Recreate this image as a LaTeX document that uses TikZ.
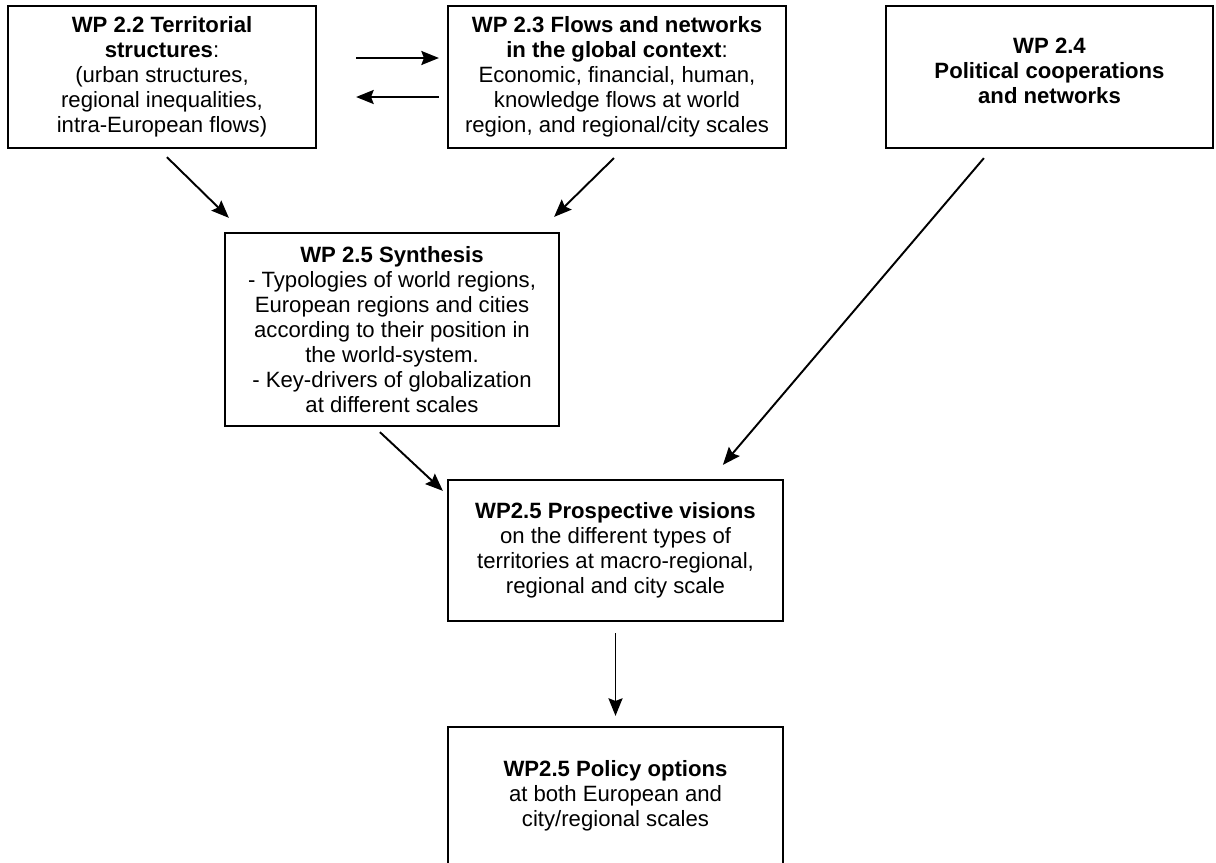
\documentclass[tikz,border=0pt]{standalone}
\usepackage{fontspec}
\setmainfont{Liberation Sans}
\usetikzlibrary{arrows.meta}

\begin{document}
\begin{tikzpicture}[x=0.02cm,y=-0.02cm,
    wpbox/.style={draw,line width=1.3pt,align=center,inner sep=0pt,
      font=\fontsize{12.6}{14.2}\selectfont},
    flow/.style={line width=1.1pt,-{Stealth[length=10pt,width=8pt,inset=1.5pt]}}]
    \useasboundingbox (0,0) rectangle (1216,862);
    % top row of work packages
    \node[wpbox,minimum width=6.16cm,minimum height=2.84cm] (b22) at (162,77)
      {\textbf{WP 2.2 Territorial}\\\textbf{structures}:\\(urban structures,\\regional inequalities,\\intra-European flows)};
    \node[wpbox,minimum width=6.76cm,minimum height=2.84cm] (b23) at (617,77)
      {\textbf{WP 2.3 Flows and networks}\\\textbf{in the global context}:\\Economic, financial, human,\\knowledge flows at world\\region, and regional/city scales};
    \node[wpbox,minimum width=6.54cm,minimum height=2.84cm] (b24) at (1049.5,77)
      {\textbf{WP 2.4}\\\textbf{Political cooperations}\\\textbf{and networks}\\[-7.4pt]\mbox{}};
    % synthesis
    \node[wpbox,minimum width=6.68cm,minimum height=3.86cm] (syn) at (392,329.5)
      {\textbf{WP 2.5 Synthesis}\\- Typologies of world regions,\\European regions and cities\\according to their position in\\the world-system.\\- Key-drivers of globalization\\at different scales};
    % visions and policy
    \node[wpbox,minimum width=6.70cm,minimum height=2.82cm] (pro) at (615.5,550.5)
      {\textbf{WP2.5 Prospective visions}\\on the different types of\\territories at macro-regional,\\regional and city scale};
    \node[wpbox,minimum width=6.70cm,minimum height=2.76cm] (pol) at (615.5,796)
      {\textbf{WP2.5 Policy options}\\at both European and\\city/regional scales};
    % connectors
    \draw[flow] ([shift={(39,-19)}]b22.east) -- ([shift={(-8,-19)}]b23.west);
    \draw[flow] ([shift={(-8,20)}]b23.west) -- ([shift={(39,20)}]b22.east);
    \draw[flow] ([shift={(160,8)}]b22.south west) -- ([shift={(5,-14)}]syn.north west);
    \draw[flow] ([shift={(167,9)}]b23.south west) -- ([shift={(-6,-15)}]syn.north east);
    \draw[flow] ([shift={(99,9)}]b24.south west) -- ([shift={(276,-14)}]pro.north west);
    \draw[flow] ([shift={(156,5)}]syn.south west) -- ([shift={(-4,12)}]pro.north west);
    \draw[flow] ([shift={(0,11)}]pro.south) -- ([shift={(0,-10)}]pol.north);
\end{tikzpicture}
\end{document}
